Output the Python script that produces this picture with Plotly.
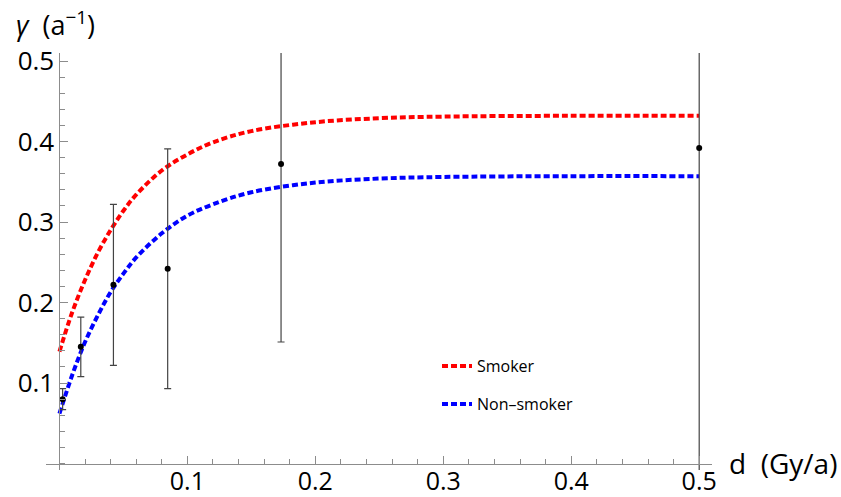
import plotly.graph_objects as go

# Measured data points with error bars
d_points = [0.0025, 0.0167, 0.0422, 0.0846, 0.1732, 0.5]
gamma_points = [0.080, 0.145, 0.222, 0.242, 0.372, 0.392]
gamma_err = [0.013, 0.037, 0.100, 0.149, 0.221, 0.500]

# Curves
d_curve = [0.0, 0.01, 0.02, 0.03, 0.04, 0.05, 0.06, 0.08, 0.10, 0.12, 0.15, 0.20, 0.25, 0.30, 0.40, 0.50]
gamma_smoker = [0.139, 0.188, 0.228, 0.262, 0.290, 0.314, 0.334, 0.364, 0.384, 0.399, 0.413, 0.424, 0.429, 0.431, 0.432, 0.432]
gamma_nonsmoker = [0.062, 0.110, 0.151, 0.184, 0.213, 0.236, 0.256, 0.286, 0.308, 0.322, 0.337, 0.349, 0.354, 0.356, 0.357, 0.357]

x_major = [0.1, 0.2, 0.3, 0.4, 0.5]
x_labels = ["0.1", "0.2", "0.3", "0.4", "0.5"]
y_major = [0.1, 0.2, 0.3, 0.4, 0.5]
y_labels = ["0.1", "0.2", "0.3", "0.4", "0.5"]

FONT = "Open Sans"
W, H = 841, 497
ML, MR, MT, MB = 46, 129, 53, 27
PW, PH = W - ML - MR, H - MT - MB
xr = [-0.0105, 0.51]
yr = [-0.008, 0.51]

fig = go.Figure()
fig.add_trace(go.Scatter(
    x=d_curve, y=gamma_smoker, mode="lines", name="Smoker",
    line=dict(color="#ff0000", width=4, dash="6px,3px", shape="spline"),
    legend="legend"))
fig.add_trace(go.Scatter(
    x=d_curve, y=gamma_nonsmoker, mode="lines", name="Non\u2013smoker",
    line=dict(color="#0000ff", width=4, dash="6px,3px", shape="spline"),
    legend="legend2"))
fig.add_trace(go.Scatter(
    x=d_points, y=gamma_points, mode="markers", showlegend=False,
    marker=dict(color="black", size=6),
    error_y=dict(type="data", array=gamma_err, color="#444444", thickness=1.2, width=3.5)))

xpos = (0 - yr[0]) / (yr[1] - yr[0])
ypos = (0 - xr[0]) / (xr[1] - xr[0])

tickfont = dict(size=26, family=FONT, color="black")
fig.update_layout(
    width=W, height=H,
    margin=dict(l=ML, r=MR, t=MT, b=MB, autoexpand=False),
    paper_bgcolor="white", plot_bgcolor="white",
    font=dict(family=FONT, color="black"),
    xaxis=dict(range=xr, anchor="free", position=xpos, showgrid=False, zeroline=False,
               automargin=False, ticklabelstandoff=-5,
               showline=True, linecolor="#8c8c8c", linewidth=1,
               tickvals=x_major, ticktext=x_labels, ticks="inside", ticklen=8,
               tickcolor="#8c8c8c", tickfont=dict(size=25, family=FONT, color="black"),
               minor=dict(tick0=0, dtick=0.02, ticks="inside", ticklen=5, tickcolor="#8c8c8c", showgrid=False)),
    yaxis=dict(range=yr, anchor="free", position=ypos, showgrid=False, zeroline=False,
               automargin=False,
               showline=True, linecolor="#8c8c8c", linewidth=1,
               tickvals=y_major, ticktext=y_labels, ticks="inside", ticklen=8,
               tickcolor="#8c8c8c", tickfont=tickfont,
               minor=dict(tick0=0, dtick=0.02, ticks="inside", ticklen=5, tickcolor="#8c8c8c", showgrid=False)),
    legend=dict(x=(437 - ML) / PW, y=(MT + PH - 366) / PH, xanchor="left", yanchor="middle",
                bgcolor="rgba(0,0,0,0)", font=dict(size=16, family=FONT, color="black")),
    legend2=dict(x=(437 - ML) / PW, y=(MT + PH - 404) / PH, xanchor="left", yanchor="middle",
                 bgcolor="rgba(0,0,0,0)", font=dict(size=16, family=FONT, color="black")),
    annotations=[
        dict(text="<i>\u03b3</i>\u00a0\u00a0(a<sup>\u22121</sup>)", xref="paper", yref="paper",
             x=(14 - ML) / PW, y=(MT + PH - 23) / PH, xanchor="left", yanchor="middle",
             showarrow=False, font=dict(size=27, family=FONT, color="black")),
        dict(text="d\u00a0\u00a0(Gy/a)", xref="paper", yref="paper",
             x=(727 - ML) / PW, y=(MT + PH - 463) / PH, xanchor="left", yanchor="middle",
             showarrow=False, font=dict(size=28, family=FONT, color="black")),
    ],
)

fig.write_html("out.html")
